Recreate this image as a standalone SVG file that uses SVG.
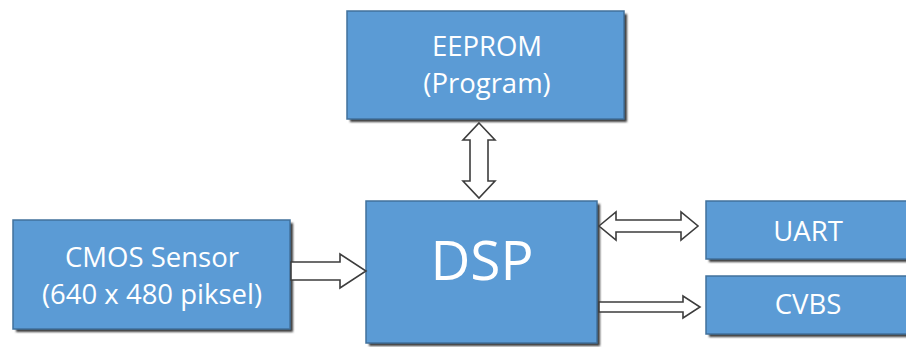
<svg xmlns="http://www.w3.org/2000/svg" width="906" height="347" viewBox="0 0 906 347">
<defs>
<filter id="blur" x="-10%" y="-10%" width="120%" height="130%"><feGaussianBlur stdDeviation="1.2"/></filter>
</defs>
<style>
.box{fill:#5B9BD5;stroke:#41719C;stroke-width:1.5}
.sh{fill:#3a3a3a;filter:url(#blur)}
.t{font-family:"Open Sans","Liberation Sans",sans-serif;fill:#ffffff;text-anchor:middle;font-size:27.5px}
.arr{fill:#ffffff;stroke:#3d3d3d;stroke-width:1.6;stroke-linejoin:miter}
</style>
<rect width="906" height="347" fill="#ffffff"/>
<g id="eeprom">
<rect class="sh" x="350" y="14" width="277" height="108"/>
<rect class="box" x="347" y="11" width="277" height="108"/>
<text class="t" x="487" y="56">EEPROM</text>
<text class="t" x="487" y="93">(Program)</text>
</g>
<g id="dsp">
<rect class="sh" x="369" y="204" width="231" height="142"/>
<rect class="box" x="366" y="201" width="231" height="142"/>
<text class="t" x="482" y="280" style="font-size:55px">DSP</text>
</g>
<g id="cmos">
<rect class="sh" x="16" y="223" width="277" height="109"/>
<rect class="box" x="13" y="220" width="277" height="109"/>
<text class="t" x="152" y="267">CMOS Sensor</text>
<text class="t" x="152" y="304">(640 x 480 piksel)</text>
</g>
<g id="uart">
<rect class="sh" x="709" y="204" width="200" height="58"/>
<rect class="box" x="706" y="201" width="205" height="58"/>
<text class="t" x="808" y="241">UART</text>
</g>
<g id="cvbs">
<rect class="sh" x="709" y="279" width="200" height="58"/>
<rect class="box" x="706" y="276" width="205" height="58"/>
<text class="t" x="808" y="314">CVBS</text>
</g>
<g id="connectors">
<polygon class="arr" points="479,123 495,140 488,140 488,181 495,181 479,198 463,181 470,181 470,140 463,140"/>
<polygon class="arr" points="291,262 340,262 340,254 366,271 340,288 340,280 291,280"/>
<polygon class="arr" points="599,226 616,212 616,220 681,220 681,212 698,226 681,240 681,232 616,232 616,240"/>
<polygon class="arr" points="599,302 683,302 683,296 700,307 683,318 683,312 599,312"/>
</g>
</svg>
